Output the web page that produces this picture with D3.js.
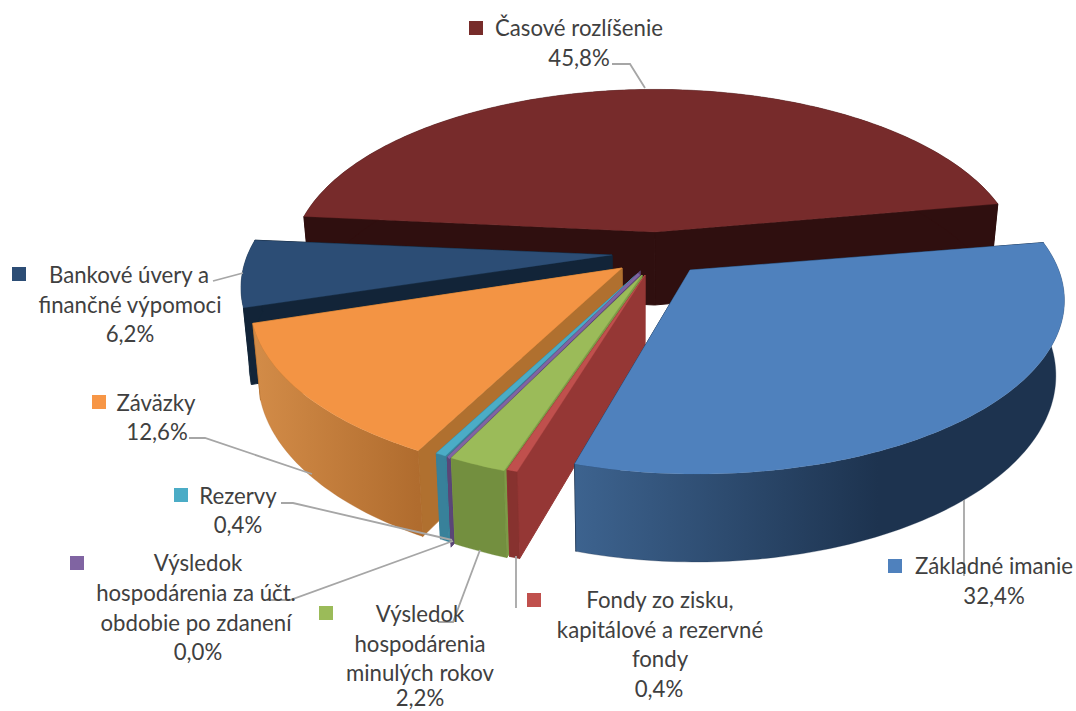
<!DOCTYPE html>
<html><head><meta charset="utf-8">
<script src="https://cdn.jsdelivr.net/npm/d3@7/dist/d3.min.js"></script>
<style>html,body{margin:0;background:#fff}svg{display:block}text{font-family:Lato,sans-serif;font-size:22.2px;fill:#404040}</style>
</head><body><svg id="c" width="1076" height="711"></svg>
<script>
// data, clockwise from the rotation angle
const categories=["Základné imanie","Fondy zo zisku, kapitálové a rezervné fondy","Výsledok hospodárenia minulých rokov","Výsledok hospodárenia za účt. obdobie po zdanení","Rezervy","Záväzky","Bankové úvery a finančné výpomoci","Časové rozlíšenie"];
const values=[32.4,0.4,2.2,0.0,0.4,12.6,6.2,45.8];
const valueLabels=["32,4%","0,4%","2,2%","0,0%","0,4%","12,6%","6,2%","45,8%"];
// styling per slice
const topColors=["#4f81bd","#c0504d","#9bbb59","#8064a2","#4bacc6","#f39444","#2c4d75","#772b2b"];
const legendColors=["#4f81bd","#c0504d","#9bbb59","#8064a2","#4bacc6","#f79646","#2c4d75","#772c2a"];
const wallFrom=["#3d638f","#87322f","#738f3f","#5a4677","#38819a","#d38c48","#122438","#2f0f0f"];
const wallTo=["#1d334f","#87322f","#738f3f","#5a4677","#38819a","#b06c2e","#122438","#2f0f0f"];
const cutColors=["#1d334f","#953735","#7d9a47","#5a4677","#38819a","#b0702f","#122438","#2f0f0f"];
const explodeTips=[[690,270],[645,275],[642,275],[639,274],[637,274],[622,268],[612,255],[655,232]];
const arcOrigins=[[697,271],[648,280],[645,281],[642,281],[639,279],[625,273],[612,258],[655,232]];
const radiusScale=[1,1,1,1,1,1.02,1.01,0.99];
const startTrim=[-1,0,0,0,0,0,0,-0.7];
const endTrim=[-1.2,0,0,0,0,0,0,-1];
const paintOrder=[7,6,5,4,3,2,1,0];
// projection
const rotation=81,R=362,Ry=168.5,persp=0.17,H0=73,vanishX=640,lean=0.02;
const pie=d3.pie().sort(null).startAngle(rotation*Math.PI/180).endAngle((rotation+360)*Math.PI/180);
const arcs=pie(values);
const svg=d3.select("#c"),defs=svg.append("defs");
const line=d3.line();
const top3=(i,a)=>{const s=Math.sin(a),c=Math.cos(a),d=1+persp*c,o=arcOrigins[i],m=radiusScale[i];
  return [o[0]+m*R*s/d,o[1]-m*Ry*c/d,d];};
const drop=(p,d)=>[p[0]+(vanishX-p[0])*lean,p[1]+H0/d];
function sweep(a0,a1){const n=Math.max(2,Math.ceil((a1-a0)/(Math.PI/180)));return d3.range(n+1).map(k=>a0+(a1-a0)*k/n);}
const g=svg.append("g");
paintOrder.forEach(i=>{
  const a=arcs[i],a0=a.startAngle+startTrim[i]*Math.PI/180,a1=a.endAngle+endTrim[i]*Math.PI/180;
  const rim=sweep(a0,a1).map(t=>top3(i,t));
  const tip=explodeTips[i],tipB=drop(tip,1);
  const id="w"+i,xs=rim.map(p=>p[0]);
  const gr=defs.append("linearGradient").attr("id",id).attr("gradientUnits","userSpaceOnUse")
    .attr("x1",d3.min(xs)).attr("x2",d3.min(xs)+(d3.max(xs)-d3.min(xs))*(i===0?0.62:1)).attr("y1",0).attr("y2",0);
  gr.append("stop").attr("offset",0).attr("stop-color",wallFrom[i]);
  gr.append("stop").attr("offset",1).attr("stop-color",wallTo[i]);
  const xy=p=>[p[0],p[1]];
  const first=rim[0],last=rim[rim.length-1];
  const face=(p)=>line([tip,xy(p),drop(p,p[2]),tipB])+"Z";
  const sw=values[i]===0?3:1;
  g.append("path").attr("d",face(last)).attr("fill",cutColors[i]).attr("stroke",cutColors[i]).attr("stroke-width",sw);
  g.append("path").attr("d",face(first)).attr("fill",cutColors[i]).attr("stroke",cutColors[i]).attr("stroke-width",sw);
  const wall=rim.map(xy).concat(rim.slice().reverse().map(p=>drop(p,p[2])));
  g.append("path").attr("d",line(wall)+"Z").attr("fill",`url(#${id})`).attr("stroke",wallTo[i]).attr("stroke-width",values[i]===0?3:0.3);
  const poly=[tip].concat(rim.map(xy));
  g.append("path").attr("d",line(poly)+"Z").attr("fill",topColors[i]).attr("stroke",topColors[i]).attr("stroke-width",values[i]===0?3:0.3);
});
// leader lines
const leaders=[
 [[964,500],[964,576]],
 [[516,556],[516,608]],
 [[480,550],[453,622],[438,622]],
 [[453,541],[290,600],[267,600]],
 [[452,540],[293,503],[281,503]],
 [[312,474],[205,438],[189,438]],
 [[243,273],[213,281]],
 [[645,88],[630,64],[612,64]]];
svg.append("g").selectAll("path").data(leaders).join("path").attr("d",d=>line(d)).attr("fill","none").attr("stroke","#a6a6a6").attr("stroke-width",1.8);
// labels
const swatches=[[888,559],[527,593],[319,606],[70,556],[174,488],[92,395],[12,267],[469,21]];
const labelLines=[
 [["Základné imanie",994,574]],
 [["Fondy zo zisku,",660,608],["kapitálové a rezervné",660,638],["fondy",660,667]],
 [["Výsledok",420,622],["hospodárenia",420,652],["minulých rokov",420,681]],
 [["Výsledok",198,571],["hospodárenia za účt.",196,601],["obdobie po zdanení",196,631]],
 [["Rezervy",238,504]],
 [["Záväzky",156,411]],
 [["Bankové úvery a",129,283],["finančné výpomoci",130,313]],
 [["Časové rozlíšenie",579,36]]];
const pctPos=[[994,604],[659,697],[420,706],[198,660],[238,533],[157,440],[130,342],[579,66]];
const lg=svg.append("g");
swatches.forEach((s,i)=>lg.append("rect").attr("x",s[0]).attr("y",s[1]).attr("width",14).attr("height",14).attr("fill",legendColors[i]));
labelLines.forEach(ls=>ls.forEach(l=>lg.append("text").attr("x",l[1]).attr("y",l[2]).attr("text-anchor","middle").text(l[0])));
pctPos.forEach((p,i)=>lg.append("text").attr("x",p[0]).attr("y",p[1]).attr("text-anchor","middle").text(valueLabels[i]));
</script></body></html>
